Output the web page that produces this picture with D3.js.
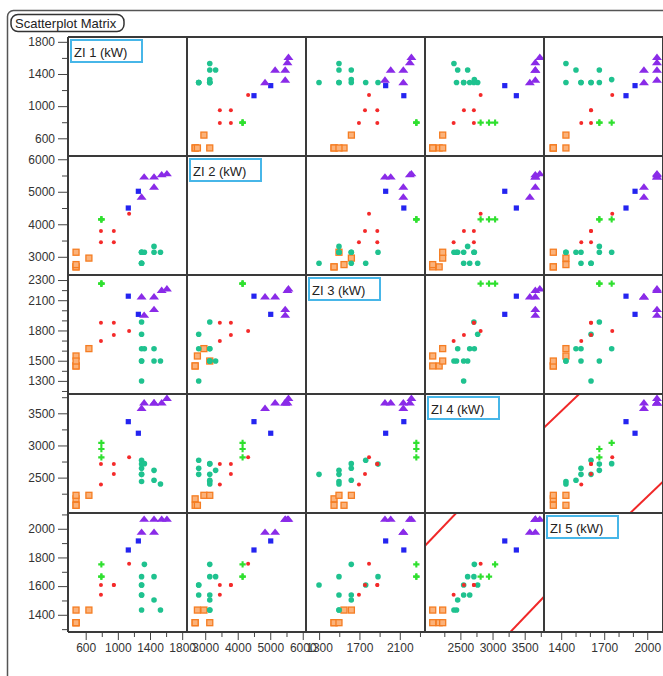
<!DOCTYPE html>
<html>
<head>
<meta charset="utf-8">
<script src="https://cdn.jsdelivr.net/npm/d3@7"></script>
<style>
  body { margin: 0; background: #fff; }
  text { font-family: "Liberation Sans", Arial, sans-serif; }
</style>
</head>
<body>
<script>
// Variables of the matrix (one row / column each)
var fields = ["ZI 1 (kW)", "ZI 2 (kW)", "ZI 3 (kW)", "ZI 4 (kW)", "ZI 5 (kW)"];
var domains = [[380, 1860], [2440, 6100], [1170, 2350], [1950, 3800], [1280, 2110]];

// tick labels on the left (rows) and on the bottom (columns)
var yLabels = [[600, 1000, 1400, 1800], [3000, 4000, 5000, 6000], [1300, 1500, 1800, 2100, 2300], [2500, 3000, 3500], [1400, 1600, 1800, 2000]];
var yMinor = [[800, 1200, 1600], [3500, 4500, 5500], [1200, 1400, 1600, 1700, 1900, 2000, 2200], [2250, 2750, 3250, 3750], [1300, 1500, 1700, 1900, 2100]];
var xLabels = [[600, 1000, 1400, 1800], [3000, 4000, 5000, 6000], [1300, 1700, 2100], [2500, 3000, 3500], [1400, 1700, 2000]];
var xMinor = [[800, 1200, 1600], [3500, 4500, 5500], [1500, 1900, 2300], [2250, 2750, 3250, 3750], [1500, 1600, 1800, 1900]];

// each record: [ZI1, ZI2, ZI3, ZI4, ZI5]
var orangePts = [
  [480, 2690, 1448, 2170, 1345],
  [480, 2690, 1448, 2070, 1345],
  [480, 2760, 1547, 2070, 1433],
  [640, 2960, 1620, 2225, 1433],
  [480, 3140, 1497, 2225, 1345],
];
var tealPts = [
  [1295, 2800, 1762, 2769, 1608],
  [1295, 2800, 1619, 2645, 1538],
  [1295, 2800, 1299, 2551, 1608],
  [1295, 3140, 1884, 2710, 1666],
  [1295, 3140, 1497, 2551, 1538],
  [1295, 3140, 1497, 2440, 1433],
  [1330, 3140, 1619, 2717, 1752],
  [1450, 3320, 1497, 2613, 1666],
  [1450, 3140, 1619, 2458, 1503],
  [1530, 3140, 1497, 2400, 1433],
];
var greenPts = [
  [795, 4150, 2264, 2815, 1666],
  [795, 4150, 2264, 2945, 1666],
  [795, 4150, 2264, 3040, 1752],
];
var redPts = [
  [790, 3450, 1695, 2395, 1540],
  [790, 3790, 1877, 2710, 1608],
  [950, 3450, 1877, 2710, 1608],
  [950, 3790, 1755, 2555, 1608],
  [1140, 4320, 1795, 2815, 1756],
];
var bluePts = [
  [1130, 4500, 2140, 3370, 1852],
  [1255, 5015, 1960, 3190, 1915],
];
var purplePts = [
  [1295, 4840, 2135, 3580, 1977],
  [1327, 5460, 1953, 3665, 2068],
  [1450, 5460, 2010, 3665, 2068],
  [1450, 5150, 2135, 3665, 1977],
  [1545, 5530, 2200, 3665, 2068],
  [1610, 5560, 2215, 3735, 2068],
];

// red reference segments in the ZI4 / ZI5 plane: [[ZI4, ZI5], [ZI4, ZI5]]
var fitLines = [
  [[1900, 1858], [2500, 2140]],
  [[3200, 1244], [3850, 1549]],
];

var groups = [
  { pts: orangePts, kind: "orange" },
  { pts: tealPts, kind: "teal" },
  { pts: greenPts, kind: "green" },
  { pts: redPts, kind: "red" },
  { pts: bluePts, kind: "blue" },
  { pts: purplePts, kind: "purple" },
];

var svgWidth = 663;
var svgHeight = 676;
var x0 = 68;
var y0 = 37;
var cell = 119;
var n = fields.length;

var svg = d3
  .select("body")
  .append("svg")
  .attr("width", svgWidth)
  .attr("height", svgHeight);

// outer frame and title
svg
  .append("rect")
  .attr("x", 7.5)
  .attr("y", 10.5)
  .attr("width", 720)
  .attr("height", 720)
  .attr("rx", 6)
  .attr("fill", "none")
  .attr("stroke", "#555")
  .attr("stroke-width", 1.5);

svg
  .append("rect")
  .attr("x", 11)
  .attr("y", 14.5)
  .attr("width", 113)
  .attr("height", 17)
  .attr("rx", 7)
  .attr("fill", "#fff")
  .attr("stroke", "#333")
  .attr("stroke-width", 1.5);

svg
  .append("text")
  .attr("x", 15)
  .attr("y", 28)
  .attr("font-size", 13)
  .attr("fill", "#222")
  .text("Scatterplot Matrix");

var xScales = domains.map((d) => d3.scaleLinear().domain(d).range([0, cell]));
var yScales = domains.map((d) => d3.scaleLinear().domain(d).range([cell, 0]));

// draws one marker of a group at the origin of sel
function drawMarker(sel, kind) {
  if (kind == "orange") {
    sel.append("rect").attr("x", -3).attr("y", -3).attr("width", 6).attr("height", 6)
      .attr("fill", "#fbb27a").attr("stroke", "#f57d22").attr("stroke-width", 1.3);
  } else if (kind == "teal") {
    sel.append("circle").attr("r", 2.8).attr("fill", "#1fc28f");
  } else if (kind == "green") {
    sel.append("path").attr("d", d3.symbol(d3.symbolCross, 22)()).attr("fill", "#2fe02f");
  } else if (kind == "red") {
    sel.append("circle").attr("r", 2).attr("fill", "#f42a2a");
  } else if (kind == "blue") {
    sel.append("rect").attr("x", -2.6).attr("y", -2.6).attr("width", 5.2).attr("height", 5.2)
      .attr("fill", "#2424f0");
  } else {
    sel.append("path").attr("d", "M-5,2.8L5,2.8L0,-3.6Z").attr("fill", "#8a2be8");
  }
}

for (var i = 0; i < n; i++) {
  for (var j = 0; j < n; j++) {
    var g = svg
      .append("g")
      .attr("transform", `translate(${x0 + j * cell}, ${y0 + i * cell})`);

    if (i == j) {
      // variable name on the diagonal
      g.append("rect")
        .attr("x", 3)
        .attr("y", 3)
        .attr("width", 71)
        .attr("height", 22)
        .attr("fill", "#fff")
        .attr("stroke", "#47b6e8")
        .attr("stroke-width", 2);
      g.append("text")
        .attr("x", 6)
        .attr("y", 19.5)
        .attr("font-size", 13)
        .attr("fill", "#222")
        .text(fields[i]);
      continue;
    }

    var clipId = `clip-${i}-${j}`;
    g.append("clipPath").attr("id", clipId)
      .append("rect").attr("width", cell).attr("height", cell);
    var inner = g.append("g").attr("clip-path", `url(#${clipId})`);

    // red segments only between ZI4 and ZI5
    if ((i == 3 && j == 4) || (i == 4 && j == 3)) {
      fitLines.forEach((seg) => {
        inner
          .append("line")
          .attr("x1", xScales[j](seg[0][j - 3]))
          .attr("y1", yScales[i](seg[0][i - 3]))
          .attr("x2", xScales[j](seg[1][j - 3]))
          .attr("y2", yScales[i](seg[1][i - 3]))
          .attr("stroke", "#f02828")
          .attr("stroke-width", 2);
      });
    }

    groups.forEach((grp) => {
      inner
        .selectAll(null)
        .data(grp.pts)
        .enter()
        .append("g")
        .attr("transform", (d) => `translate(${xScales[j](d[j])}, ${yScales[i](d[i])})`)
        .each(function () {
          drawMarker(d3.select(this), grp.kind);
        });
    });
  }
}

// left axes, one per row; bottom axes, one per column
function styleAxis(ax) {
  ax.select(".domain").remove();
  ax.selectAll("line").attr("stroke", "#444");
  ax.selectAll("text").attr("font-size", 12).attr("fill", "#333")
    .style("font-family", '"Liberation Sans", Arial, sans-serif');
}

var fmt = d3.format("d");

for (var r = 0; r < n; r++) {
  var ya = svg.append("g").attr("transform", `translate(${x0}, ${y0 + r * cell})`);
  ya.call(d3.axisLeft(yScales[r]).tickValues(yLabels[r]).tickFormat(fmt).tickSize(10).tickPadding(3));
  styleAxis(ya);
  var ym = svg.append("g").attr("transform", `translate(${x0}, ${y0 + r * cell})`);
  ym.call(d3.axisLeft(yScales[r]).tickValues(yMinor[r]).tickSize(6).tickFormat(""));
  styleAxis(ym);

  var xa = svg.append("g").attr("transform", `translate(${x0 + r * cell}, ${y0 + n * cell})`);
  xa.call(d3.axisBottom(xScales[r]).tickValues(xLabels[r]).tickFormat(fmt).tickSize(8).tickPadding(3));
  styleAxis(xa);
  var xm = svg.append("g").attr("transform", `translate(${x0 + r * cell}, ${y0 + n * cell})`);
  xm.call(d3.axisBottom(xScales[r]).tickValues(xMinor[r]).tickSize(5).tickFormat(""));
  styleAxis(xm);
}

// panel grid on top
for (var k = 0; k <= n; k++) {
  svg.append("line")
    .attr("x1", x0 + k * cell).attr("x2", x0 + k * cell)
    .attr("y1", y0).attr("y2", y0 + n * cell)
    .attr("stroke", "#3a3a3a").attr("stroke-width", 2);
  svg.append("line")
    .attr("x1", x0).attr("x2", x0 + n * cell)
    .attr("y1", y0 + k * cell).attr("y2", y0 + k * cell)
    .attr("stroke", "#3a3a3a").attr("stroke-width", 2);
}
</script>
</body>
</html>
